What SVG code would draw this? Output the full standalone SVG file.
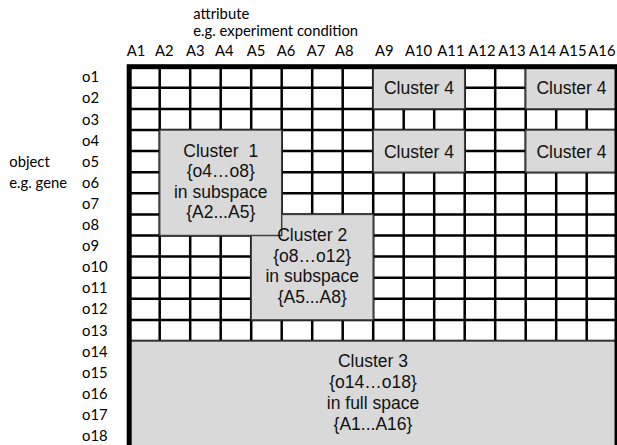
<svg xmlns="http://www.w3.org/2000/svg" width="617" height="445" viewBox="0 0 617 445">
<style>
.lbl{font-family:Lato,"Open Sans",sans-serif;font-size:14.8px;fill:#000}
.ct{font-family:"Liberation Sans",Arial,sans-serif;font-size:17.5px;fill:#111;text-anchor:middle;white-space:pre}
.cl{fill:#d9d9d9;stroke:#404040;stroke-width:1.5}
.g{stroke:#000;stroke-width:2.5;fill:none}
</style>
<rect width="617" height="445" fill="#fff"/>
<g id="labels" class="lbl">
<text x="193.3" y="18.5">attribute</text>
<text x="193.3" y="36">e.g. experiment condition</text>
<text x="126.7" y="56">A1</text><text x="155" y="56">A2</text><text x="186" y="56">A3</text><text x="215" y="56">A4</text>
<text x="246.7" y="56">A5</text><text x="276.7" y="56">A6</text><text x="306.7" y="56">A7</text><text x="335" y="56">A8</text>
<text x="375" y="56">A9</text><text x="405" y="56">A10</text><text x="437.3" y="56">A11</text><text x="468.3" y="56">A12</text>
<text x="498.3" y="56">A13</text><text x="529" y="56">A14</text><text x="559.3" y="56">A15</text><text x="588.3" y="56">A16</text>
<text x="82" y="82.3">o1</text><text x="82" y="103.4">o2</text><text x="82" y="124.5">o3</text><text x="82" y="145.6">o4</text>
<text x="82" y="166.7">o5</text><text x="82" y="187.8">o6</text><text x="82" y="208.9">o7</text><text x="82" y="230">o8</text>
<text x="82" y="251.1">o9</text><text x="82" y="272.2">o10</text><text x="82" y="293.3">o11</text><text x="82" y="314.4">o12</text>
<text x="82" y="335.5">o13</text><text x="82" y="356.6">o14</text><text x="82" y="377.7">o15</text><text x="82" y="398.8">o16</text>
<text x="82" y="419.9">o17</text><text x="82" y="441">o18</text>
<text x="9.3" y="166.7">object</text>
<text x="9.3" y="187.8">e.g. gene</text>
</g>
<g id="grid" class="g">
<path d="M159.7 66.7V447M190.2 66.7V447M220.7 66.7V447M251.2 66.7V447M281.7 66.7V447M312.2 66.7V447M342.7 66.7V447M373.2 66.7V447M403.7 66.7V447M434.2 66.7V447M464.7 66.7V447M495.2 66.7V447M525.7 66.7V447M556.2 66.7V447M586.7 66.7V447"/>
<path d="M129.2 87.8H617M129.2 108.9H617M129.2 130H617M129.2 151.1H617M129.2 172.2H617M129.2 193.3H617M129.2 214.4H617M129.2 235.5H617M129.2 256.6H617M129.2 277.7H617M129.2 298.8H617M129.2 319.9H617M129.2 341H617M129.2 362.1H617M129.2 383.2H617M129.2 404.3H617M129.2 425.4H617"/>
</g>
<g id="cluster4a"><rect class="cl" x="373.2" y="66.7" width="91.5" height="42.2"/><text class="ct" x="419" y="94.3">Cluster 4</text></g>
<g id="cluster4b"><rect class="cl" x="525.7" y="66.7" width="91.5" height="42.2"/><text class="ct" x="571.5" y="94.3">Cluster 4</text></g>
<g id="cluster4c"><rect class="cl" x="373.2" y="130" width="91.5" height="42.2"/><text class="ct" x="419" y="157.5">Cluster 4</text></g>
<g id="cluster4d"><rect class="cl" x="525.7" y="130" width="91.5" height="42.2"/><text class="ct" x="571.5" y="157.5">Cluster 4</text></g>
<g id="cluster2"><rect class="cl" x="251.2" y="214.4" width="122" height="105.5"/></g>
<g id="cluster1"><rect class="cl" x="159.7" y="130" width="122" height="105.5"/>
<text class="ct" x="220.7" y="156.7">Cluster  1</text>
<text class="ct" x="220.7" y="177.2">{o4…o8}</text>
<text class="ct" x="220.7" y="197.7">in subspace</text>
<text class="ct" x="220.7" y="218.2">{A2...A5}</text></g>
<g id="cluster2text">
<text class="ct" x="312.2" y="240.7">Cluster 2</text>
<text class="ct" x="312.2" y="261.5">{o8…o12}</text>
<text class="ct" x="312.2" y="282.3">in subspace</text>
<text class="ct" x="312.2" y="303.1">{A5...A8}</text></g>
<g id="cluster3"><rect class="cl" x="129.2" y="341" width="487.8" height="110"/>
<text class="ct" x="373" y="366.7">Cluster 3</text>
<text class="ct" x="373" y="387.7">{o14…o18}</text>
<text class="ct" x="373" y="408.7">in full space</text>
<text class="ct" x="373" y="429.7">{A1...A16}</text></g>
<g id="border"><rect x="129.2" y="66.7" width="487.8" height="385" fill="none" stroke="#000" stroke-width="5"/></g>
</svg>
